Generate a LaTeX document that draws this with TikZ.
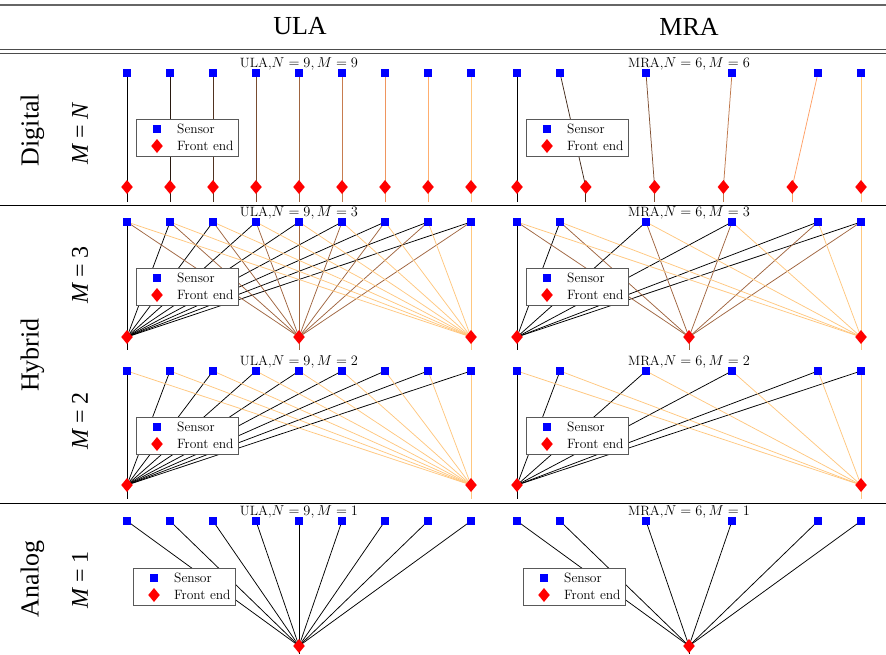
\documentclass[tikz,border=0pt]{standalone}
\usepackage{fontspec}
\newfontfamily\timesf{Liberation Serif}
\usetikzlibrary{shapes.geometric}
\pgfdeclarelayer{bg}
\pgfsetlayers{bg,main}
\tikzset{
  sensor/.style={rectangle, fill=blue, minimum size=8.5pt, inner sep=0pt, outer sep=0pt},
  fe/.style={diamond, fill=red, minimum width=11.5pt, minimum height=14pt, inner sep=0pt, outer sep=0pt},
  link/.style={line width=0.75pt},
  legbox/.style={rectangle, draw=black!65, fill=white, line width=0.7pt, minimum width=102pt, minimum height=37pt, anchor=north west, inner sep=0pt},
  ttl/.style={font=\fontsize{13.5}{15}\selectfont, anchor=base, inner sep=0pt},
  legtxt/.style={font=\fontsize{13.5}{15}\selectfont, anchor=west, inner sep=0pt},
  head/.style={font=\timesf\fontsize{26}{30}\selectfont, inner sep=0pt},
  rowlab/.style={rotate=90, font=\timesf\fontsize{26}{30}\selectfont, inner sep=0pt},
  mlab/.style={rotate=90, font=\timesf\fontsize{24}{28}\selectfont, inner sep=0pt},
  toprulestyle/.style={line width=1.3pt, black!60},
  dblrule/.style={line width=0.9pt, black!70},
  seprule/.style={line width=0.8pt, black},
}
% #1 prefix #2 sensor xs #3 x0 #4 M #5 ys #6 yf #7 ystub #8 mode(1=one-to-one) #9 title
\newcommand\mypanel[9]{%
 \foreach \xx [count=\i] in {#2} {\node[sensor] (#1s\i) at (\xx,#5) {}; \xdef\Nsens{\i}}
 \foreach \j in {1,...,#4} {
   \ifnum#4=1 \pgfmathsetmacro\fx{#3+172}\else\pgfmathsetmacro\fx{#3+344*(\j-1)/(#4-1)}\fi
   \node[fe] (#1f\j) at (\fx,#6) {};
   \path (#1f\j.center) ++(0,{#7-#6}) coordinate (#1o\j);
 }
 \node[ttl] (#1t) at ({#3+172},{#5-5.5}) {#9};
 \begin{pgfonlayer}{bg}
 \foreach \j in {1,...,#4} {
   \ifnum#4=1 \def\cval{0}\else\pgfmathsetmacro\cval{(\j-1)/(#4-1)}\fi
   \pgfmathsetmacro\colR{min(1,1.25*\cval)}
   \pgfmathsetmacro\colG{0.7812*\cval}
   \pgfmathsetmacro\colB{0.4975*\cval}
   \definecolor{lc}{rgb}{\colR,\colG,\colB}
   \draw[link, lc] (#1f\j.center) -- (#1o\j);
   \ifnum#8=1
     \draw[link, lc] (#1s\j.center) -- (#1f\j.center);
   \else
     \foreach \i in {1,...,\Nsens} {\draw[link, lc] (#1s\i.center) -- (#1f\j.center);}
   \fi
 }
 \end{pgfonlayer}
}
\newcommand\mylegend[3]{%
 \node[legbox] (#1L) at (#2,#3) {};
 \node[sensor] (#1Ls) at ([xshift=21pt,yshift=-10pt]#1L.north west) {};
 \node[fe] (#1Lf) at ([xshift=21pt,yshift=-27pt]#1L.north west) {};
 \node[legtxt] (#1La) at ([xshift=41pt,yshift=-10pt]#1L.north west) {Sensor};
 \node[legtxt] (#1Lb) at ([xshift=41pt,yshift=-27pt]#1L.north west) {Front end};
}
\begin{document}
\begin{tikzpicture}[x=1pt,y=-1pt]
\useasboundingbox (0,0) rectangle (886,654);
% rules
\coordinate (r0l) at (0,5);   \coordinate (r0r) at (886,5);
\coordinate (r1l) at (0,49);  \coordinate (r1r) at (886,49);
\coordinate (r2l) at (0,53);  \coordinate (r2r) at (886,53);
\coordinate (r3l) at (0,205); \coordinate (r3r) at (886,205);
\coordinate (r4l) at (0,503); \coordinate (r4r) at (886,503);
\draw[toprulestyle] (r0l) -- (r0r);
\draw[dblrule] (r1l) -- (r1r);
\draw[dblrule] (r2l) -- (r2r);
\draw[seprule] (r3l) -- (r3r);
\draw[seprule] (r4l) -- (r4r);
% headers
\node[head] (hU) at (300,26.5) {ULA};
\node[head] (hM) at (689,26.5) {MRA};
% row labels
\node[rowlab] (rD) at (32.5,130) {Digital};
\node[mlab] (mD) at (80,134) {{\itshape M} = {\itshape N}};
\node[rowlab] (rH) at (32.5,355) {Hybrid};
\node[mlab] (m3) at (80,275) {{\itshape M} = 3};
\node[mlab] (m2) at (80,421) {{\itshape M} = 2};
\node[rowlab] (rA) at (32.5,579) {Analog};
\node[mlab] (m1) at (80,580) {{\itshape M} = 1};
% panels
\mypanel{pA}{127,170,213,256,299,342,385,428,471}{127}{9}{73}{187}{202}{1}{ULA,$N=9,M=9$}
\mypanel{pB}{517,560,646,732,818,861}{517}{6}{73}{187}{202}{1}{MRA,$N=6,M=6$}
\mypanel{pC}{127,170,213,256,299,342,385,428,471}{127}{3}{222}{337}{350}{0}{ULA,$N=9,M=3$}
\mypanel{pD}{517,560,646,732,818,861}{517}{3}{222}{337}{350}{0}{MRA,$N=6,M=3$}
\mypanel{pE}{127,170,213,256,299,342,385,428,471}{127}{2}{371}{485}{499}{0}{ULA,$N=9,M=2$}
\mypanel{pF}{517,560,646,732,818,861}{517}{2}{371}{485}{499}{0}{MRA,$N=6,M=2$}
\mypanel{pG}{127,170,213,256,299,342,385,428,471}{127}{1}{521}{646}{654}{0}{ULA,$N=9,M=1$}
\mypanel{pH}{517,560,646,732,818,861}{517}{1}{521}{646}{654}{0}{MRA,$N=6,M=1$}
% legends
\mylegend{pA}{136}{119}
\mylegend{pB}{526}{119}
\mylegend{pC}{136}{268}
\mylegend{pD}{526}{268}
\mylegend{pE}{136}{417}
\mylegend{pF}{526}{417}
\mylegend{pG}{133}{568}
\mylegend{pH}{523}{568}
\end{tikzpicture}
\end{document}
